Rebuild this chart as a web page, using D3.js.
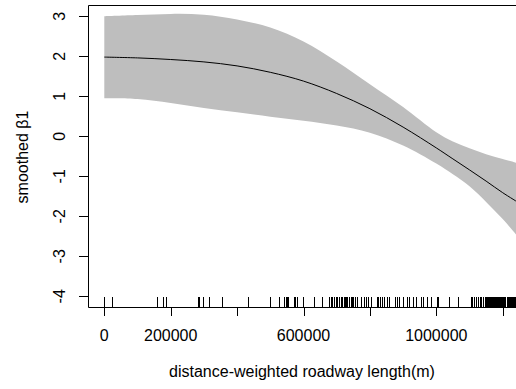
<!DOCTYPE html>
<html><head><meta charset="utf-8">
<script src="https://cdn.jsdelivr.net/npm/d3@7"></script>
<style>
html,body{margin:0;padding:0;background:#fff;}
svg{display:block;}
text{font-family:"Liberation Sans",Arial,sans-serif;fill:#000;}
</style></head>
<body>
<script>
// data (x in metres)
const gridX   = [0,100000,200000,300000,400000,500000,600000,700000,800000,900000,1000000,1050000,1100000,1150000,1200000,1250000];
const fitY    = [1.98,1.96,1.92,1.86,1.76,1.60,1.38,1.07,0.69,0.23,-0.29,-0.565,-0.84,-1.12,-1.41,-1.67];
const upperY  = [3.00,3.03,3.06,3.04,2.92,2.72,2.37,1.87,1.30,0.73,0.10,-0.13,-0.30,-0.45,-0.57,-0.68];
const lowerY  = [0.95,0.93,0.83,0.71,0.60,0.49,0.39,0.27,0.09,-0.23,-0.68,-0.95,-1.25,-1.64,-2.07,-2.55];
const xTicks  = [0,200000,400000,600000,800000,1000000,1200000];
const xTickLabels = ["0","200000","","600000","","1000000",""];
const yTicks  = [-4,-3,-2,-1,0,1,2,3];
const rugX = [0,21700,160200,178300,187300,281300,285200,295800,315400,355100,431900,
  500000,527100,542200,546700,550300,554200,570500,574400,581900,599400,632500,656600,
  678300,682800,687300,691900,696400,700900,706900,713000,716000,720500,725000,728000,
  732500,737100,741600,746100,750600,755100,762000,773200,782200,787300,793400,803300,
  820500,824400,830400,836400,842500,850600,858400,875600,881600,887700,900600,910900,
  918700,928900,938900,953000,960800,972900,984000,1002100,1006000,1039200,1066300,
  1103600,1109000,1113500,1119600,1125600,1131600,1136100,1141600,
  1147000,1150000,1153000,1156000,1159000,1162000,1165000,1168000,1171000,1174000,
  1177000,1180000,1183000,1186000,1189000,1192000,1195000,1198000,1201000,1204000,1207000,
  1212000,1215000,1218000,1221000,1224000,1227000,1230000,1233000,1236000,1239000];

const W=516,H=389;
const L=88, T=5, B=307, R=517;
const svg=d3.select("body").append("svg").attr("width",W).attr("height",H);

const x=d3.scaleLinear().domain([0,1200000]).range([104.3,502.7]);
const y=d3.scaleLinear().domain([-4,3]).range([296.3,16.3]);

svg.append("clipPath").attr("id","clip").append("rect")
  .attr("x",L).attr("y",T).attr("width",R-L).attr("height",B-T);

const g=svg.append("g").attr("clip-path","url(#clip)");
const pts=gridX.map((d,i)=>({x:d,f:fitY[i],u:upperY[i],l:lowerY[i]}));

g.append("path").datum(pts)
  .attr("d",d3.area().x(d=>x(d.x)).y0(d=>y(d.l)).y1(d=>y(d.u)).curve(d3.curveCatmullRom))
  .attr("fill","#BEBEBE");
g.append("path").datum(pts)
  .attr("d",d3.line().x(d=>x(d.x)).y(d=>y(d.f)).curve(d3.curveCatmullRom))
  .attr("fill","none").attr("stroke","#000").attr("stroke-width",1);

// rug
g.selectAll("line.rug").data(rugX).enter().append("line")
  .attr("x1",d=>Math.round(x(d))+0.5).attr("x2",d=>Math.round(x(d))+0.5).attr("y1",B).attr("y2",297)
  .attr("stroke","#000").attr("stroke-width",1).attr("shape-rendering","crispEdges");

// box (right side falls outside)
svg.append("path").attr("d",`M${R},${T+0.5}H${L+0.5}V${B+0.5}H${R}`)
  .attr("fill","none").attr("stroke","#000").attr("stroke-width",1);

// y axis
const ya=svg.append("g");
ya.selectAll("line").data(yTicks).enter().append("line")
  .attr("x1",79).attr("x2",L).attr("y1",d=>Math.round(y(d))+0.5).attr("y2",d=>Math.round(y(d))+0.5)
  .attr("stroke","#000");
ya.selectAll("text").data(yTicks).enter().append("text")
  .attr("transform",d=>`translate(65,${y(d)}) rotate(-90)`)
  .attr("text-anchor","middle").attr("font-size",16).text(d=>d);

// x axis
const xa=svg.append("g");
xa.selectAll("line").data(xTicks).enter().append("line")
  .attr("x1",d=>Math.round(x(d))+0.5).attr("x2",d=>Math.round(x(d))+0.5).attr("y1",B).attr("y2",316)
  .attr("stroke","#000");
xa.selectAll("text").data(xTicks).enter().append("text")
  .attr("x",d=>x(d)).attr("y",341).attr("text-anchor","middle").attr("font-size",16)
  .text((d,i)=>xTickLabels[i]);

svg.append("text").attr("x",302).attr("y",377).attr("text-anchor","middle").attr("font-size",16)
  .text("distance-weighted roadway length(m)");
svg.append("text").attr("transform","translate(28,157) rotate(-90)").attr("text-anchor","middle")
  .attr("font-size",16).text("smoothed β1");
</script>
</body></html>
